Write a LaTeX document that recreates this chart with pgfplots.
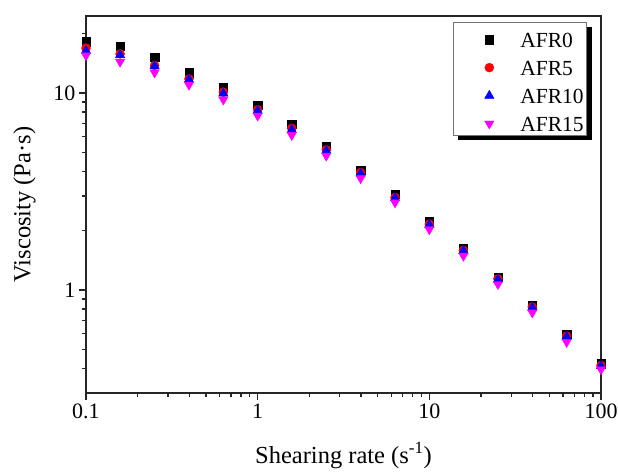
\documentclass[border=0pt]{standalone}
\usepackage{fontspec}
\setmainfont{Liberation Serif}
\usepackage{pgfplots}
\usepackage{pgfplotstable}
\pgfplotsset{compat=1.18}
\usetikzlibrary{shadows}

% Steady-shear viscosity of the four formulations
\pgfplotstableread{
rate   AFR0   AFR5   AFR10  AFR15
0.1    18.2   16.9   16.4   15.5
0.158  17.3   15.8   15.6   14.4
0.251  15.2   13.8   13.7   12.7
0.398  12.7   11.8   11.7   11.0
0.631  10.7   10.1   9.96   9.25
1.0    8.69   8.23   8.13   7.67
1.58   6.96   6.62   6.51   6.11
2.51   5.36   5.15   5.09   4.80
3.98   4.07   3.95   3.91   3.69
6.31   3.07   2.95   2.93   2.78
10     2.24   2.16   2.14   2.03
15.8   1.62   1.59   1.58   1.49
25.1   1.16   1.14   1.13   1.07
39.8   0.836  0.820  0.814  0.768
63.1   0.595  0.584  0.579  0.544
100    0.424  0.414  0.411  0.395
}\viscdata

\definecolor{afrmag}{RGB}{255,0,255}

\begin{document}
\begin{tikzpicture}
\begin{axis}[
  name=ax,
  scale only axis,
  width=515pt, height=377pt,
  xmode=log, ymode=log,
  xmin=0.1, xmax=100,
  ymin=0.3, ymax=24.6,
  axis line style={line width=1.6pt, draw=black!85},
  every tick/.style={line width=1.3pt, draw=black!85},
  tick align=outside,
  xtick pos=bottom, ytick pos=left,
  major tick length=7pt, minor tick length=4pt,
  xtick={0.1,1,10,100}, xticklabels={0.1,1,10,100},
  ytick={1,10}, yticklabels={1,10},
  minor xtick={0.2,0.3,0.4,0.5,0.6,0.7,0.8,0.9,2,3,4,5,6,7,8,9,20,30,40,50,60,70,80,90},
  minor ytick={0.4,0.5,0.6,0.7,0.8,0.9,2,3,4,5,6,7,8,9,20},
  ticklabel style={font=\fontsize{22}{26}\selectfont},
  /pgf/number format/assume math mode=true,
  xlabel={Shearing rate (s\textsuperscript{-1})},
  ylabel={Viscosity (Pa·s)},
  label style={font=\fontsize{24.5}{29}\selectfont},
  xlabel style={at={(axis description cs:0.5,-0.1857)}, anchor=base},
  ylabel style={at={(axis description cs:-0.108,0.5)}, anchor=base},
  legend style={
    at={(rel axis cs:1,1)}, anchor=north east,
    xshift=-14pt, yshift=-5.7pt,
    draw=black!55, line width=0.7pt, fill=white,
    drop shadow={shadow xshift=5pt, shadow yshift=-5pt, fill=black, opacity=1},
    inner xsep=3pt, inner ysep=0.6pt,
    font=\fontsize{21.5}{25}\selectfont,
    nodes={inner sep=0pt, text height=24.4pt, text depth=3.6pt},
    column sep=21pt, row sep=0pt,
  },
  legend cell align=left,
  legend image code/.code={
    % reserve room left of the marker without drawing anything
    \pgfpathmoveto{\pgfqpoint{-33pt}{-3pt}}%
    \pgfpathlineto{\pgfqpoint{10pt}{-3pt}}%
    \pgfusepath{discard}%
    \draw[#1] plot coordinates {(0pt,-3pt)};
  },
]
\addplot[only marks, mark=square*, mark size=4.2pt,
  mark options={fill=black, draw=black, line width=0.4pt}]
  table[x=rate, y=AFR0] {\viscdata};
\addlegendentry{AFR0}
\addplot[only marks, mark=*, mark size=4.5pt,
  mark options={fill=red, draw=red, line width=0.4pt}]
  table[x=rate, y=AFR5] {\viscdata};
\addlegendentry{AFR5}
\addplot[only marks, mark=triangle*, mark size=5.4pt,
  mark options={fill=blue, draw=blue, line width=0.4pt}]
  table[x=rate, y=AFR10] {\viscdata};
\addlegendentry{AFR10}
\addplot[only marks, mark=triangle*, mark size=5.4pt,
  mark options={rotate=180, fill=afrmag, draw=afrmag, line width=0.4pt}]
  table[x=rate, y=AFR15] {\viscdata};
\addlegendentry{AFR15}
\end{axis}
\pgfresetboundingbox
\path[use as bounding box]
  ([shift={(-86pt,-79pt)}]ax.south west) rectangle ([shift={(17pt,16pt)}]ax.north east);
\end{tikzpicture}
\end{document}
